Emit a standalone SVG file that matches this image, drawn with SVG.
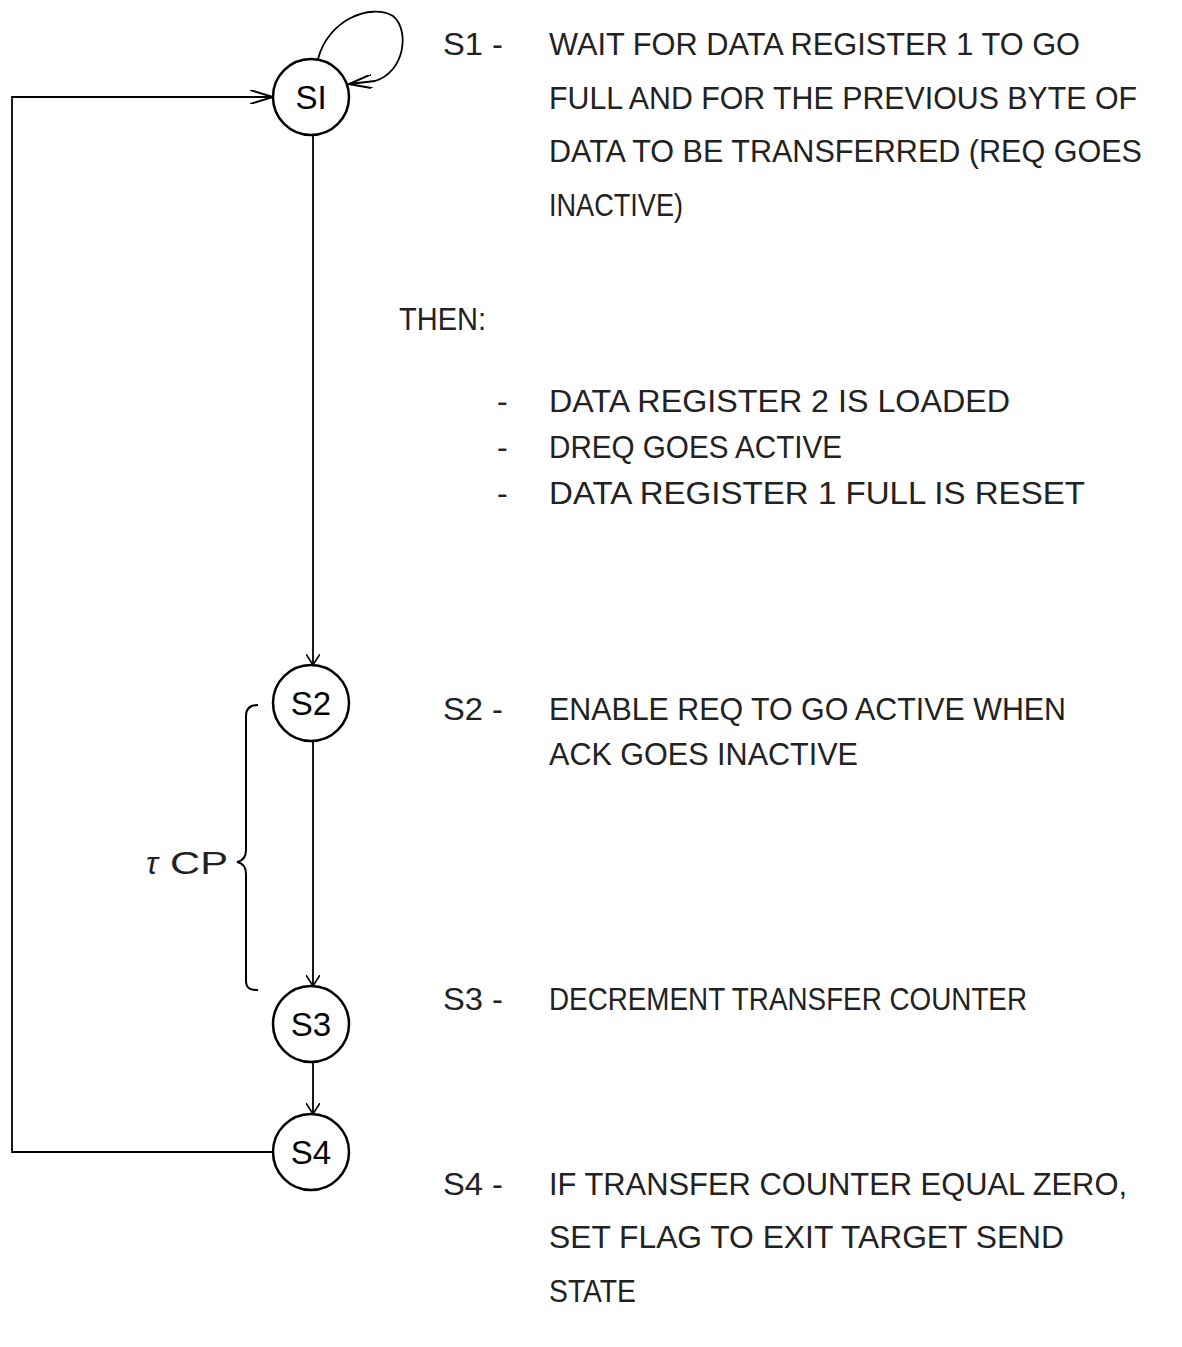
<svg xmlns="http://www.w3.org/2000/svg" width="1182" height="1347" viewBox="0 0 1182 1347">
<style>
.node circle{fill:#fff;stroke:#000;stroke-width:2.5}
.node text{font-family:"Liberation Sans",Arial,sans-serif;font-size:33px;text-anchor:middle;fill:#000}
.conn path{fill:none;stroke:#000;stroke-width:1.8}
.t{font-family:"Liberation Sans",Arial,sans-serif;font-size:32px;fill:#222}
</style>
<defs>
<marker id="arr" viewBox="0 0 12 14" refX="11" refY="7" markerWidth="12" markerHeight="14" markerUnits="userSpaceOnUse" orient="auto">
<path d="M0,0 L11,7 L0,14" fill="none" stroke="#000" stroke-width="1.6"/>
</marker>
<marker id="arr2" viewBox="0 0 24 14" refX="23" refY="7" markerWidth="24" markerHeight="14" markerUnits="userSpaceOnUse" orient="auto">
<path d="M0,0 L23,7 L0,14" fill="none" stroke="#000" stroke-width="2"/>
</marker>
</defs>
<g class="conn" id="connectors">
<path d="M313,135 L313,665" marker-end="url(#arr)"/>
<path d="M313,741 L313,986" marker-end="url(#arr)"/>
<path d="M313,1062 L313,1114" marker-end="url(#arr)"/>
<path d="M275,1152 L12,1152 L12,97 L273,97" stroke-width="2.5" marker-end="url(#arr2)"/>
<path d="M318,59 C328,20 370,3 393,16 C410,30 405,72 375,81 L349,84" stroke-width="2.2" marker-end="url(#arr2)"/>
</g>
<g id="S1" class="node"><circle cx="311" cy="97" r="38"/><text x="311" y="109">SI</text></g>
<g id="S2" class="node"><circle cx="311" cy="703" r="38"/><text x="311" y="715">S2</text></g>
<g id="S3" class="node"><circle cx="311" cy="1024" r="38"/><text x="311" y="1036">S3</text></g>
<g id="S4" class="node"><circle cx="311" cy="1152" r="38"/><text x="311" y="1164">S4</text></g>
<g id="brace">
<path d="M258,705 C250,705 246,708 246,716 L246,850 C246,858 242,861 237,862 C242,863 246,866 246,874 L246,980 C246,988 249,990 258,990" fill="none" stroke="#000" stroke-width="2"/>
<text class="t" x="146" y="874" font-style="italic" font-size="36">τ</text>
<text class="t" x="170" y="874" textLength="58" lengthAdjust="spacingAndGlyphs">CP</text>
</g>
<g id="descriptions">
<text class="t" x="443" y="55" textLength="60" lengthAdjust="spacingAndGlyphs">S1 -</text>
<text class="t" x="549" y="55" textLength="531" lengthAdjust="spacingAndGlyphs">WAIT FOR DATA REGISTER 1 TO GO</text>
<text class="t" x="549" y="109" textLength="588" lengthAdjust="spacingAndGlyphs">FULL AND FOR THE PREVIOUS BYTE OF</text>
<text class="t" x="549" y="162" textLength="593" lengthAdjust="spacingAndGlyphs">DATA TO BE TRANSFERRED (REQ GOES</text>
<text class="t" x="549" y="216" textLength="134" lengthAdjust="spacingAndGlyphs">INACTIVE)</text>
<text class="t" x="399" y="330" textLength="87" lengthAdjust="spacingAndGlyphs">THEN:</text>
<text class="t" x="497" y="412">-</text>
<text class="t" x="549" y="412" textLength="461" lengthAdjust="spacingAndGlyphs">DATA REGISTER 2 IS LOADED</text>
<text class="t" x="497" y="458">-</text>
<text class="t" x="549" y="458" textLength="293" lengthAdjust="spacingAndGlyphs">DREQ GOES ACTIVE</text>
<text class="t" x="497" y="504">-</text>
<text class="t" x="549" y="504" textLength="536" lengthAdjust="spacingAndGlyphs">DATA REGISTER 1 FULL IS RESET</text>
<text class="t" x="443" y="720" textLength="60" lengthAdjust="spacingAndGlyphs">S2 -</text>
<text class="t" x="549" y="720" textLength="517" lengthAdjust="spacingAndGlyphs">ENABLE REQ TO GO ACTIVE WHEN</text>
<text class="t" x="549" y="765" textLength="309" lengthAdjust="spacingAndGlyphs">ACK GOES INACTIVE</text>
<text class="t" x="443" y="1010" textLength="60" lengthAdjust="spacingAndGlyphs">S3 -</text>
<text class="t" x="549" y="1010" textLength="478" lengthAdjust="spacingAndGlyphs">DECREMENT TRANSFER COUNTER</text>
<text class="t" x="443" y="1195" textLength="60" lengthAdjust="spacingAndGlyphs">S4 -</text>
<text class="t" x="549" y="1195" textLength="578" lengthAdjust="spacingAndGlyphs">IF TRANSFER COUNTER EQUAL ZERO,</text>
<text class="t" x="549" y="1248" textLength="515" lengthAdjust="spacingAndGlyphs">SET FLAG TO EXIT TARGET SEND</text>
<text class="t" x="549" y="1302" textLength="87" lengthAdjust="spacingAndGlyphs">STATE</text>
</g>
</svg>
